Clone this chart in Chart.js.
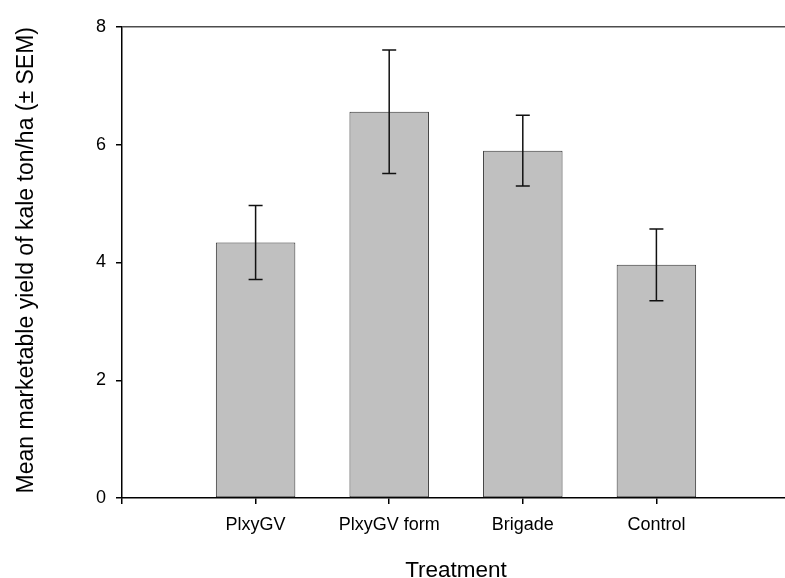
<!DOCTYPE html>
<html lang="en">
<head>
  <meta charset="UTF-8">
  <title>Mean marketable yield of kale</title>
  <script src="https://cdn.jsdelivr.net/npm/chart.js"></script>
  <style>
    html, body {
      margin: 0;
      padding: 0;
      overflow: hidden;
      background: #fff;
    }
    /* plot runs a little past the window on the right, as in the original */
    #wrap {
      width: 800px;
      height: 578px;
    }
  </style>
</head>
<body>
  <div id="wrap"><canvas id="yieldChart" width="800" height="578"></canvas></div>

  <script>
    // data
    var treatments = ['PlxyGV', 'PlxyGV form', 'Brigade', 'Control'];
    var meanYield = [4.34, 6.56, 5.90, 3.96];
    var semYield = [0.63, 1.05, 0.60, 0.61];
    var yTicks = [0, 2, 4, 6, 8];

    var fontFamily = '"Liberation Sans", Arial, sans-serif';

    // treatments sit at x = 1..4 on a 0..5 axis
    var points = meanYield.map(function(v, i) {
      return { x: i + 1, y: v };
    });

    // draws the +/- SEM whiskers using the chart's own scales
    var errorBars = {
      id: 'errorBars',
      afterDatasetsDraw: function(chart) {
        var ctx = chart.ctx;
        var yScale = chart.scales.y;
        var meta = chart.getDatasetMeta(0);
        ctx.save();
        ctx.strokeStyle = '#111';
        ctx.lineWidth = 1.5;
        meta.data.forEach(function(bar, i) {
          var top = yScale.getPixelForValue(meanYield[i] + semYield[i]);
          var bot = yScale.getPixelForValue(meanYield[i] - semYield[i]);
          var x = bar.x;
          ctx.beginPath();
          ctx.moveTo(x, top);
          ctx.lineTo(x, bot);
          ctx.moveTo(x - 7, top);
          ctx.lineTo(x + 7, top);
          ctx.moveTo(x - 7, bot);
          ctx.lineTo(x + 7, bot);
          ctx.stroke();
        });
        ctx.restore();
      }
    };

    var ctx = document.getElementById('yieldChart').getContext('2d');
    var chart = new Chart(ctx, {
      type: 'bar',
      data: {
        datasets: [{
          data: points,
          backgroundColor: '#c0c0c0',
          borderColor: '#333',
          borderWidth: 1,
          borderSkipped: false,
          barPercentage: 0.595,
          categoryPercentage: 1
        }]
      },
      plugins: [errorBars],
      options: {
        responsive: false,
        animation: false,
        layout: {
          padding: { top: 27, right: 5.5, bottom: 0, left: 0 }
        },
        plugins: {
          legend: { display: false },
          tooltip: { enabled: false }
        },
        scales: {
          x: {
            type: 'linear',
            min: 0,
            max: 5,
            offset: false,
            grid: {
              offset: false,
              drawOnChartArea: false,
              tickLength: 6,
              tickColor: '#000',
              lineWidth: 1.5
            },
            border: { color: '#000', width: 1.5 },
            ticks: {
              stepSize: 1,
              autoSkip: false,
              maxRotation: 0,
              padding: 10,
              color: '#000',
              font: { family: fontFamily, size: 18 },
              callback: function(value) {
                return treatments[value - 1] || '';
              }
            },
            title: {
              display: true,
              text: 'Treatment',
              color: '#000',
              font: { family: fontFamily, size: 22.5 },
              padding: { top: 0, bottom: -6 }
            },
            afterFit: function(scale) {
              scale.height = 80;
            }
          },
          y: {
            min: 0,
            max: 8,
            grid: {
              // only the top line at 8 shows across the plot
              color: function(c) {
                return c.tick && c.tick.value === 8 ? '#4d4d4d' : 'rgba(0,0,0,0)';
              },
              tickColor: '#000',
              tickLength: 6,
              lineWidth: 1.5
            },
            border: { color: '#000', width: 1.5 },
            afterBuildTicks: function(scale) {
              scale.ticks = yTicks.map(function(v) { return { value: v }; });
            },
            ticks: {
              padding: 10,
              color: '#000',
              font: { family: fontFamily, size: 18 }
            },
            title: {
              display: true,
              text: 'Mean marketable yield of kale ton/ha (\u00b1 SEM)',
              align: 'end',
              color: '#000',
              font: { family: fontFamily, size: 23 },
              padding: { top: 13, bottom: 0 }
            },
            afterFit: function(scale) {
              scale.width = 122;
            }
          }
        }
      }
    });
  </script>
</body>
</html>
